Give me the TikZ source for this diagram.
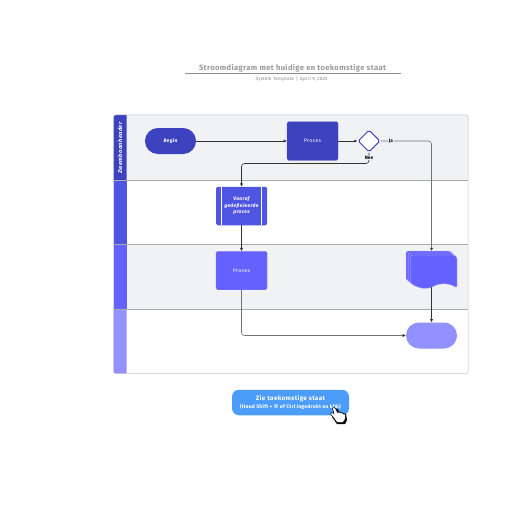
\documentclass[tikz,border=0pt]{standalone}
\usepackage{fontspec}
\setmainfont{Fira Sans}
\newfontfamily\symfont{DejaVu Sans}
\usetikzlibrary{arrows.meta,shapes.geometric}
\definecolor{laneA}{HTML}{3D42BF}
\definecolor{laneB}{HTML}{4F55E3}
\definecolor{laneC}{HTML}{6461FF}
\definecolor{laneD}{HTML}{9391FF}
\definecolor{laneshade}{HTML}{F1F2F4}
\definecolor{rim}{HTML}{A9ABAE}
\definecolor{btn}{HTML}{4C9CFA}
\tikzset{
  x=1pt,y=-1pt,
  flow/.style={draw=black!80,line width=.6pt,-{Latex[length=3.2pt,width=3.2pt]}},
  softflow/.style={draw=black!55,line width=.6pt,rounded corners=3pt,-{Latex[length=3.2pt,width=3.2pt,color=black!80]}},
  box/.style={minimum width=51pt,minimum height=38.5pt,rounded corners=1.5pt,inner sep=0pt,text=white,font=\fontsize{5.2}{6}\selectfont\addfontfeatures{LetterSpace=6}},
  pill/.style={minimum width=51pt,minimum height=26pt,rounded corners=12.9pt,inner sep=0pt,text=white,font=\fontsize{5}{6}\selectfont\itshape\bfseries\addfontfeatures{LetterSpace=6}},
  tag/.style={inner sep=.6pt,fill=laneshade,font=\fontsize{4.7}{5}\selectfont\bfseries},
}
\begin{document}
\begin{tikzpicture}
\useasboundingbox (0,0) rectangle (516,516);
% lanes
\fill[laneshade,rounded corners=2pt] (113.5,115) rectangle (468,180);
\fill[white] (126.5,180) rectangle (468,244.5);
\fill[laneshade] (126.5,244.5) rectangle (468,309);
\fill[laneA] (113.5,180) -- (113.5,117) .. controls (113.5,115.9) and (114.4,115) .. (115.5,115) -- (126.5,115) -- (126.5,180) -- cycle;
\fill[laneB] (113.5,180) rectangle (126.5,244.5);
\fill[laneC] (113.5,244.5) rectangle (126.5,309);
\fill[laneD] (113.5,309) -- (126.5,309) -- (126.5,373.5) -- (115.5,373.5) .. controls (114.4,373.5) and (113.5,372.6) .. (113.5,371.5) -- cycle;
\draw[rim!70,line width=.5pt,rounded corners=2pt] (113.5,115) rectangle (468,373.5);
\draw[rim,line width=.6pt] (113.5,180) -- (468,180) (113.5,244.5) -- (468,244.5) (113.5,309) -- (468,309);
\node[rotate=90,text=white,inner sep=0pt,font=\fontsize{5.6}{6}\selectfont\bfseries\itshape\addfontfeatures{LetterSpace=8}] (hdr) at (120,148) {Zwembaanheader};
% title
\node[text=black!40,inner sep=0pt,font=\fontsize{7.6}{9}\selectfont\bfseries\addfontfeatures{LetterSpace=5}] (title) at (292.5,68.5) {Stroomdiagram met huidige en toekomstige staat};
\coordinate (ruleL) at (185,73.5);
\coordinate (ruleR) at (401,73.5);
\draw[black!45,line width=.6pt] (ruleL) -- (ruleR);
\node[text=black!50,inner sep=0pt,font=\fontsize{4.6}{5}\selectfont\addfontfeatures{LetterSpace=5}] (sub) at (291.5,79) {System Template \,|\, April 9, 2025};
% shapes
\node[pill,fill=laneA] (begin) at (170.5,141) {Begin};
\node[box,fill=laneA,draw=laneB,line width=.3pt] (proc) at (312.5,141) {Proces};
\node[diamond,draw=laneA,fill=white,line width=1pt,minimum width=22pt,minimum height=22pt,inner sep=0pt,rounded corners=1.5pt] (dec) at (369,141) {};
\node[box,fill=laneB,align=center,font=\fontsize{5}{6.6}\selectfont\itshape\bfseries\addfontfeatures{LetterSpace=6}] (pre) at (241.5,206) {Vooraf\\gedefinieerde\\proces};
\draw[white,line width=.6pt] (221.5,187) -- (221.5,225) (261.5,187) -- (261.5,225);
\node[box,fill=laneC,draw=laneC!80!white,line width=.3pt] (proc2) at (241.5,270.5) {Proces};
% document stack
\newcommand{\docshape}[2]{\path[fill=laneC,draw=laneD!60!white,line width=.45pt,rounded corners=1.5pt] (#1,#2) -- (#1+44,#2) -- (#1+46.5,#2+2) -- (#1+46.5,#2+33) [sharp corners] .. controls (#1+40,#2+29) and (#1+32,#2+27) .. (#1+24,#2+31) .. controls (#1+17,#2+35) and (#1+7,#2+34) .. (#1,#2+28) [rounded corners=1.5pt] -- cycle;}
\docshape{406}{251}
\docshape{408.2}{253}
\docshape{410.5}{255}
\coordinate (docT) at (431.5,251);
\coordinate (docB) at (431.5,287);
\node[pill,fill=laneD] (term) at (431.5,335.5) {};
% connectors
\draw[flow] (begin) -- (proc);
\draw[flow] (proc) -- (dec);
\draw[softflow] (dec.east) -| (docT);
\draw[flow,rounded corners=3pt] (dec.south) |- (241.5,163.5) -- (pre.north);
\draw[flow] (pre) -- (proc2);
\draw[softflow] (proc2.south) |- (term.west);
\draw[flow] (docB) -- (term.north);
\node[tag] (ja) at (391,141) {Ja};
\node[tag] (nee) at (369,158) {Nee};
% button
\node[fill=btn,rounded corners=7pt,minimum width=117pt,minimum height=25.5pt,inner sep=0pt] (btnbox) at (290.5,402.5) {};
\node[text=white,inner sep=0pt,font=\fontsize{6.3}{7}\selectfont\bfseries\addfontfeatures{LetterSpace=6}] (b1) at (290.5,399) {Zie toekomstige staat};
\node[text=white,inner sep=0pt,font=\fontsize{5.1}{5}\selectfont\bfseries\addfontfeatures{LetterSpace=4}] (b2) at (290.5,406.5) {(Houd Shift + {\symfont ⌘} of Ctrl ingedrukt en klik)};
% hand
\path[fill=black] (334,409.5) -- (337,408.5) -- (339.5,412) -- (346,414) -- (347,420) -- (345,424) -- (337,424) -- (332,417) -- cycle;
\draw[fill=white,draw=black,line width=.5pt,line join=round] (332.5,408.5) .. controls (333,407) and (335,407) .. (335.5,408.5) -- (337.5,412.5) .. controls (338.5,411.5) and (340,412) .. (340.5,413) .. controls (341.5,412.3) and (343,412.7) .. (343.5,414) .. controls (344.5,413.5) and (345.5,414.5) .. (345.5,415.5) -- (345,419.5) -- (343,422.5) -- (337,422.5) -- (333,417) -- (330.5,414) .. controls (330,412.5) and (332,412) .. (334,413.5) -- cycle;
\end{tikzpicture}
\end{document}
